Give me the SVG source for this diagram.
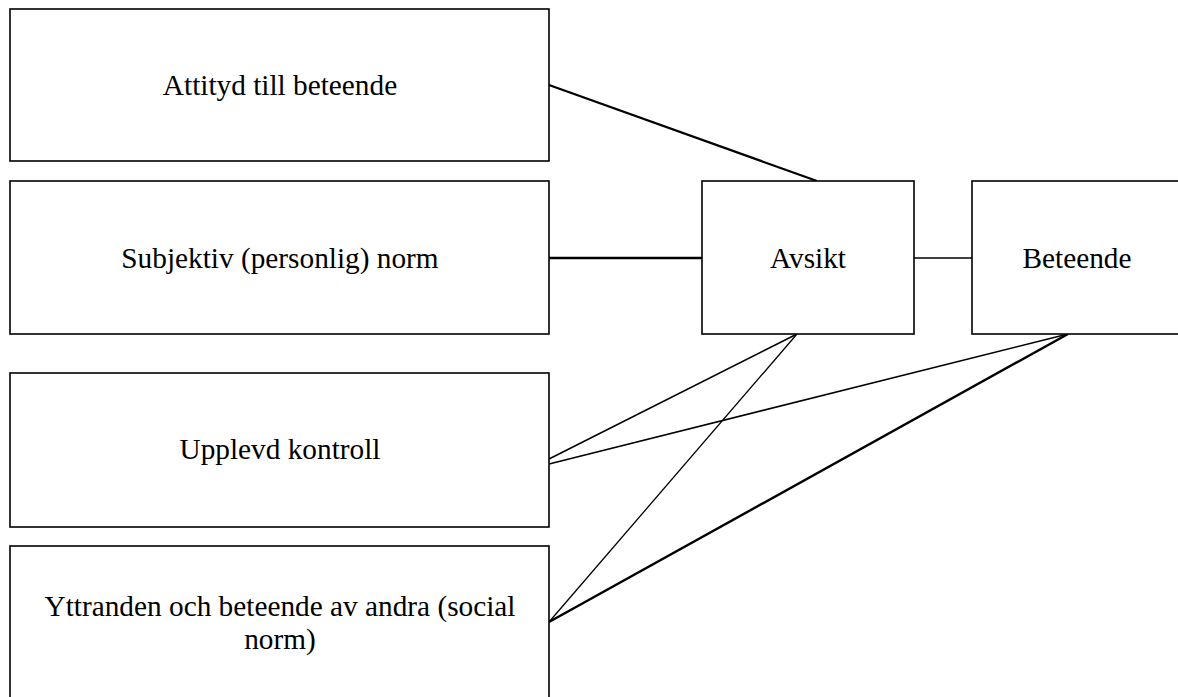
<svg xmlns="http://www.w3.org/2000/svg" width="1178" height="697" viewBox="0 0 1178 697">
<style>
.box{fill:#fff;stroke:#000;stroke-width:1.6}
.lbl{font-family:"Liberation Serif","Times New Roman",serif;font-size:29.3px;fill:#000;text-anchor:middle}
.c{stroke:#000;fill:none}
</style>
<rect width="1178" height="697" fill="#fff"/>
<g id="connectors">
<line class="c" x1="549" y1="85" x2="817" y2="181" stroke-width="2.2"/>
<line class="c" x1="549" y1="258" x2="702" y2="258" stroke-width="2.6"/>
<line class="c" x1="914" y1="258" x2="972" y2="258" stroke-width="1.6"/>
<line class="c" x1="549" y1="459" x2="797" y2="334" stroke-width="1.5"/>
<line class="c" x1="549" y1="464" x2="1068" y2="334" stroke-width="1.5"/>
<line class="c" x1="549" y1="622" x2="797" y2="334" stroke-width="1.3"/>
<line class="c" x1="549" y1="622" x2="1068" y2="334" stroke-width="2.4"/>
</g>
<g id="attityd">
<rect class="box" x="10" y="9" width="539" height="152"/>
<text class="lbl" x="280" y="94.5">Attityd till beteende</text>
</g>
<g id="subjektiv">
<rect class="box" x="10" y="181" width="539" height="153"/>
<text class="lbl" x="280" y="267.5">Subjektiv (personlig) norm</text>
</g>
<g id="upplevd">
<rect class="box" x="10" y="373" width="539" height="154"/>
<text class="lbl" x="280" y="459">Upplevd kontroll</text>
</g>
<g id="yttranden">
<rect class="box" x="10" y="546" width="539" height="153"/>
<text class="lbl" x="280" y="615.5">Yttranden och beteende av andra (social</text>
<text class="lbl" x="280" y="648.8">norm)</text>
</g>
<g id="avsikt">
<rect class="box" x="702" y="181" width="212" height="153"/>
<text class="lbl" x="808" y="267.5">Avsikt</text>
</g>
<g id="beteende">
<rect class="box" x="972" y="181" width="211" height="153"/>
<text class="lbl" x="1077" y="267.5">Beteende</text>
</g>
</svg>
